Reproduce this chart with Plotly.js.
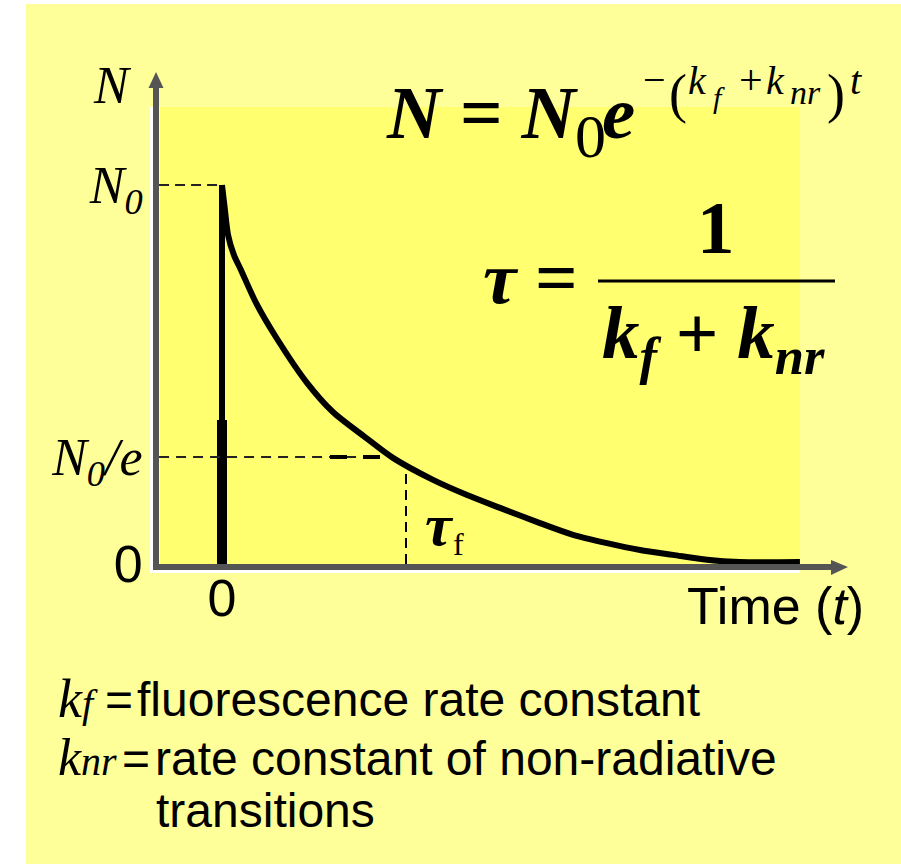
<!DOCTYPE html>
<html>
<head>
<meta charset="utf-8">
<script src="https://cdn.plot.ly/plotly-3.0.1.min.js"></script>
<style>
  html, body { margin: 0; padding: 0; background: #ffffff; }
  #decay_graph { width: 901px; height: 864px; }
</style>
</head>
<body>
<div id="decay_graph"></div>
<script>
// decay curve, time in units of tau_f, N in units of N0
var decay_t = [0, 0.016, 0.033, 0.065, 0.103, 0.185, 0.293, 0.462, 0.603, 0.777, 0.929, 1.147,
               1.332, 1.511, 1.728, 1.908, 2.092, 2.272, 2.451, 2.636, 2.815, 3.141];
var decay_n = [1.0, 0.934, 0.868, 0.815, 0.776, 0.689, 0.599, 0.478, 0.401, 0.335, 0.280, 0.222,
               0.182, 0.148, 0.108, 0.077, 0.055, 0.037, 0.024, 0.011, 0.005, 0.005];

// excitation pulse at t = 0
var pulse_t = [0, 0];
var pulse_n = [0, 1];
var pulse_foot_n = [0, 0.38];

// guide levels and ticks
var level_vals = [0, 0.282, 1];
var level_text = ['<span style="font-family:Liberation Sans">0</span>',
                  '<i>N</i><sub><i>0</i></sub><i>/e</i>',
                  '<i>N</i><sub><i>0</i></sub>'];
var time_ticks = [0];
var time_text = ['0'];
var tau_t = 1.0;
var n0_guide_t = [-0.342, -0.02];
var n0e_guide_t = [-0.342, 0.859];
var n0e_heavy_t = [0.587, 0.859];
var tau_guide_n = [0, 0.24];

// page geometry (pixels)
var W = 901, H = 864;
var M = {l: 159, r: 69, t: 87, b: 300};
function px(x) { return (x - M.l) / (W - M.l - M.r); }
function py(y) { return (H - M.b - y) / (H - M.t - M.b); }
function tri(pts) {
  return 'M' + pts.map(function (p) { return px(p[0]) + ',' + py(p[1]); }).join('L') + 'Z';
}
// text placed by its left (or centre/right) x and its baseline
function txt(text, x, base, size, family, anchor) {
  return {
    text: text, xref: 'paper', yref: 'paper', showarrow: false,
    x: px(x), y: py(base - 0.34 * size), xanchor: anchor || 'left', yanchor: 'middle',
    font: {family: family || 'Liberation Serif', size: size, color: '#000000'}
  };
}

var traces = [
  {x: pulse_t, y: pulse_n, mode: 'lines', line: {color: '#000000', width: 6}},
  {x: pulse_t, y: pulse_foot_n, mode: 'lines', line: {color: '#000000', width: 10}},
  {x: decay_t, y: decay_n, mode: 'lines', line: {color: '#000000', width: 6, shape: 'spline', smoothing: 0.8}},
  {x: n0_guide_t, y: [level_vals[2], level_vals[2]], mode: 'lines',
   line: {color: '#222222', width: 2, dash: '10px,6px'}},
  {x: n0e_guide_t, y: [level_vals[1], level_vals[1]], mode: 'lines',
   line: {color: '#222222', width: 2, dash: '10px,7px'}},
  {x: n0e_heavy_t, y: [level_vals[1], level_vals[1]], mode: 'lines',
   line: {color: '#000000', width: 4, dash: '17px,16px'}},
  {x: [tau_t, tau_t], y: tau_guide_n, mode: 'lines',
   line: {color: '#000000', width: 2, dash: '10px,6px'}}
];

var shapes = [
  {type: 'rect', xref: 'paper', yref: 'paper', x0: px(0), x1: px(26), y0: py(H), y1: py(0),
   fillcolor: '#ffffff', line: {width: 0}, layer: 'below'},
  {type: 'rect', xref: 'paper', yref: 'paper', x0: px(0), x1: px(W), y0: py(4), y1: py(0),
   fillcolor: '#ffffff', line: {width: 0}, layer: 'below'},
  {type: 'rect', xref: 'paper', yref: 'paper', x0: px(150), x1: px(800), y0: py(573), y1: py(107),
   fillcolor: '#ffffff', line: {width: 0}, layer: 'below'},
  {type: 'rect', xref: 'paper', yref: 'paper', x0: px(160), x1: px(800), y0: py(564), y1: py(107),
   fillcolor: '#ffff70', line: {width: 0}, layer: 'below'},
  // arrow heads
  {type: 'path', xref: 'paper', yref: 'paper', path: tri([[148.5, 88], [156, 72], [163.5, 88]]),
   fillcolor: '#555555', line: {width: 0}},
  {type: 'path', xref: 'paper', yref: 'paper', path: tri([[831, 560], [848, 567], [831, 575]]),
   fillcolor: '#555555', line: {width: 0}},
  // fraction bar
  {type: 'line', xref: 'paper', yref: 'paper', x0: px(598), x1: px(835), y0: py(281), y1: py(281),
   line: {color: '#000000', width: 3}}
];

var annotations = [
  txt('<i>N</i>', 112, 103, 52, null, 'center'),
  // N = N0 e^-(kf+knr)t
  txt('<b><i>N</i> = <i>N</i></b>', 384, 138, 75),
  txt('0', 573, 157, 62),
  txt('<b><i>e</i></b>', 600, 138, 75),
  txt('\u2212', 641, 93, 40),
  txt('(', 667, 112, 54),
  txt('<i>k</i>', 686, 94, 40),
  txt('<i>f</i>', 711, 108, 30),
  txt('+', 737, 94, 42),
  txt('<i>k</i>', 764, 94, 40),
  txt('<i>nr</i>', 788, 104, 34),
  txt(')', 825, 112, 54),
  txt('<i>t</i>', 848, 94, 40),
  // tau = 1 / (kf + knr)
  txt('<b><i>\u03c4</i> =</b>', 481, 303, 75),
  txt('<b>1</b>', 716, 253, 75, null, 'center'),
  txt('<b><i>k</i><sub><i>f</i></sub> + <i>k</i><sub><i>nr</i></sub></b>', 713, 363, 75, null, 'center'),
  // tau_f label
  txt('<b><i>\u03c4</i></b>', 423, 545, 60),
  txt('f', 451, 555, 32),
  txt('Time (<i>t</i>)', 866, 624, 52, 'Liberation Sans', 'right'),
  // legend text
  txt('<i>k<span style="font-size:40px">f</span></i>', 56, 717, 54),
  txt('=', 103, 716, 48, 'Liberation Sans'),
  txt('fluorescence rate constant', 135, 716, 48, 'Liberation Sans'),
  txt('<i>k<span style="font-size:40px">nr</span></i>', 56, 775, 52),
  txt('=', 120, 775, 48, 'Liberation Sans'),
  txt('rate constant of non-radiative', 153, 775, 48, 'Liberation Sans'),
  txt('transitions', 154, 827, 48, 'Liberation Sans')
];

var layout = {
  width: W, height: H, autosize: false,
  margin: {l: M.l, r: M.r, t: M.t, b: M.b, pad: 0},
  paper_bgcolor: '#ffff99',
  plot_bgcolor: 'rgba(0,0,0,0)',
  showlegend: false,
  hovermode: false,
  font: {family: 'Liberation Serif', color: '#000000'},
  xaxis: {
    range: [(M.l - 222) / 184, (W - M.r - 222) / 184],
    showline: true, linecolor: '#555555', linewidth: 6,
    showgrid: false, zeroline: false, ticks: '',
    tickvals: time_ticks, ticktext: time_text,
    tickfont: {family: 'Liberation Sans', size: 52, color: '#000000'},
    ticklabelstandoff: -16,
    fixedrange: true
  },
  yaxis: {
    range: [0, (H - M.b - M.t) / 379],
    showline: true, linecolor: '#555555', linewidth: 6,
    showgrid: false, zeroline: false, ticks: '',
    tickvals: level_vals, ticktext: level_text,
    tickfont: {family: 'Liberation Serif', size: 52, color: '#000000'},
    fixedrange: true
  },
  shapes: shapes,
  annotations: annotations
};

Plotly.newPlot('decay_graph', traces, layout, {displayModeBar: false, staticPlot: true});
</script>
</body>
</html>
